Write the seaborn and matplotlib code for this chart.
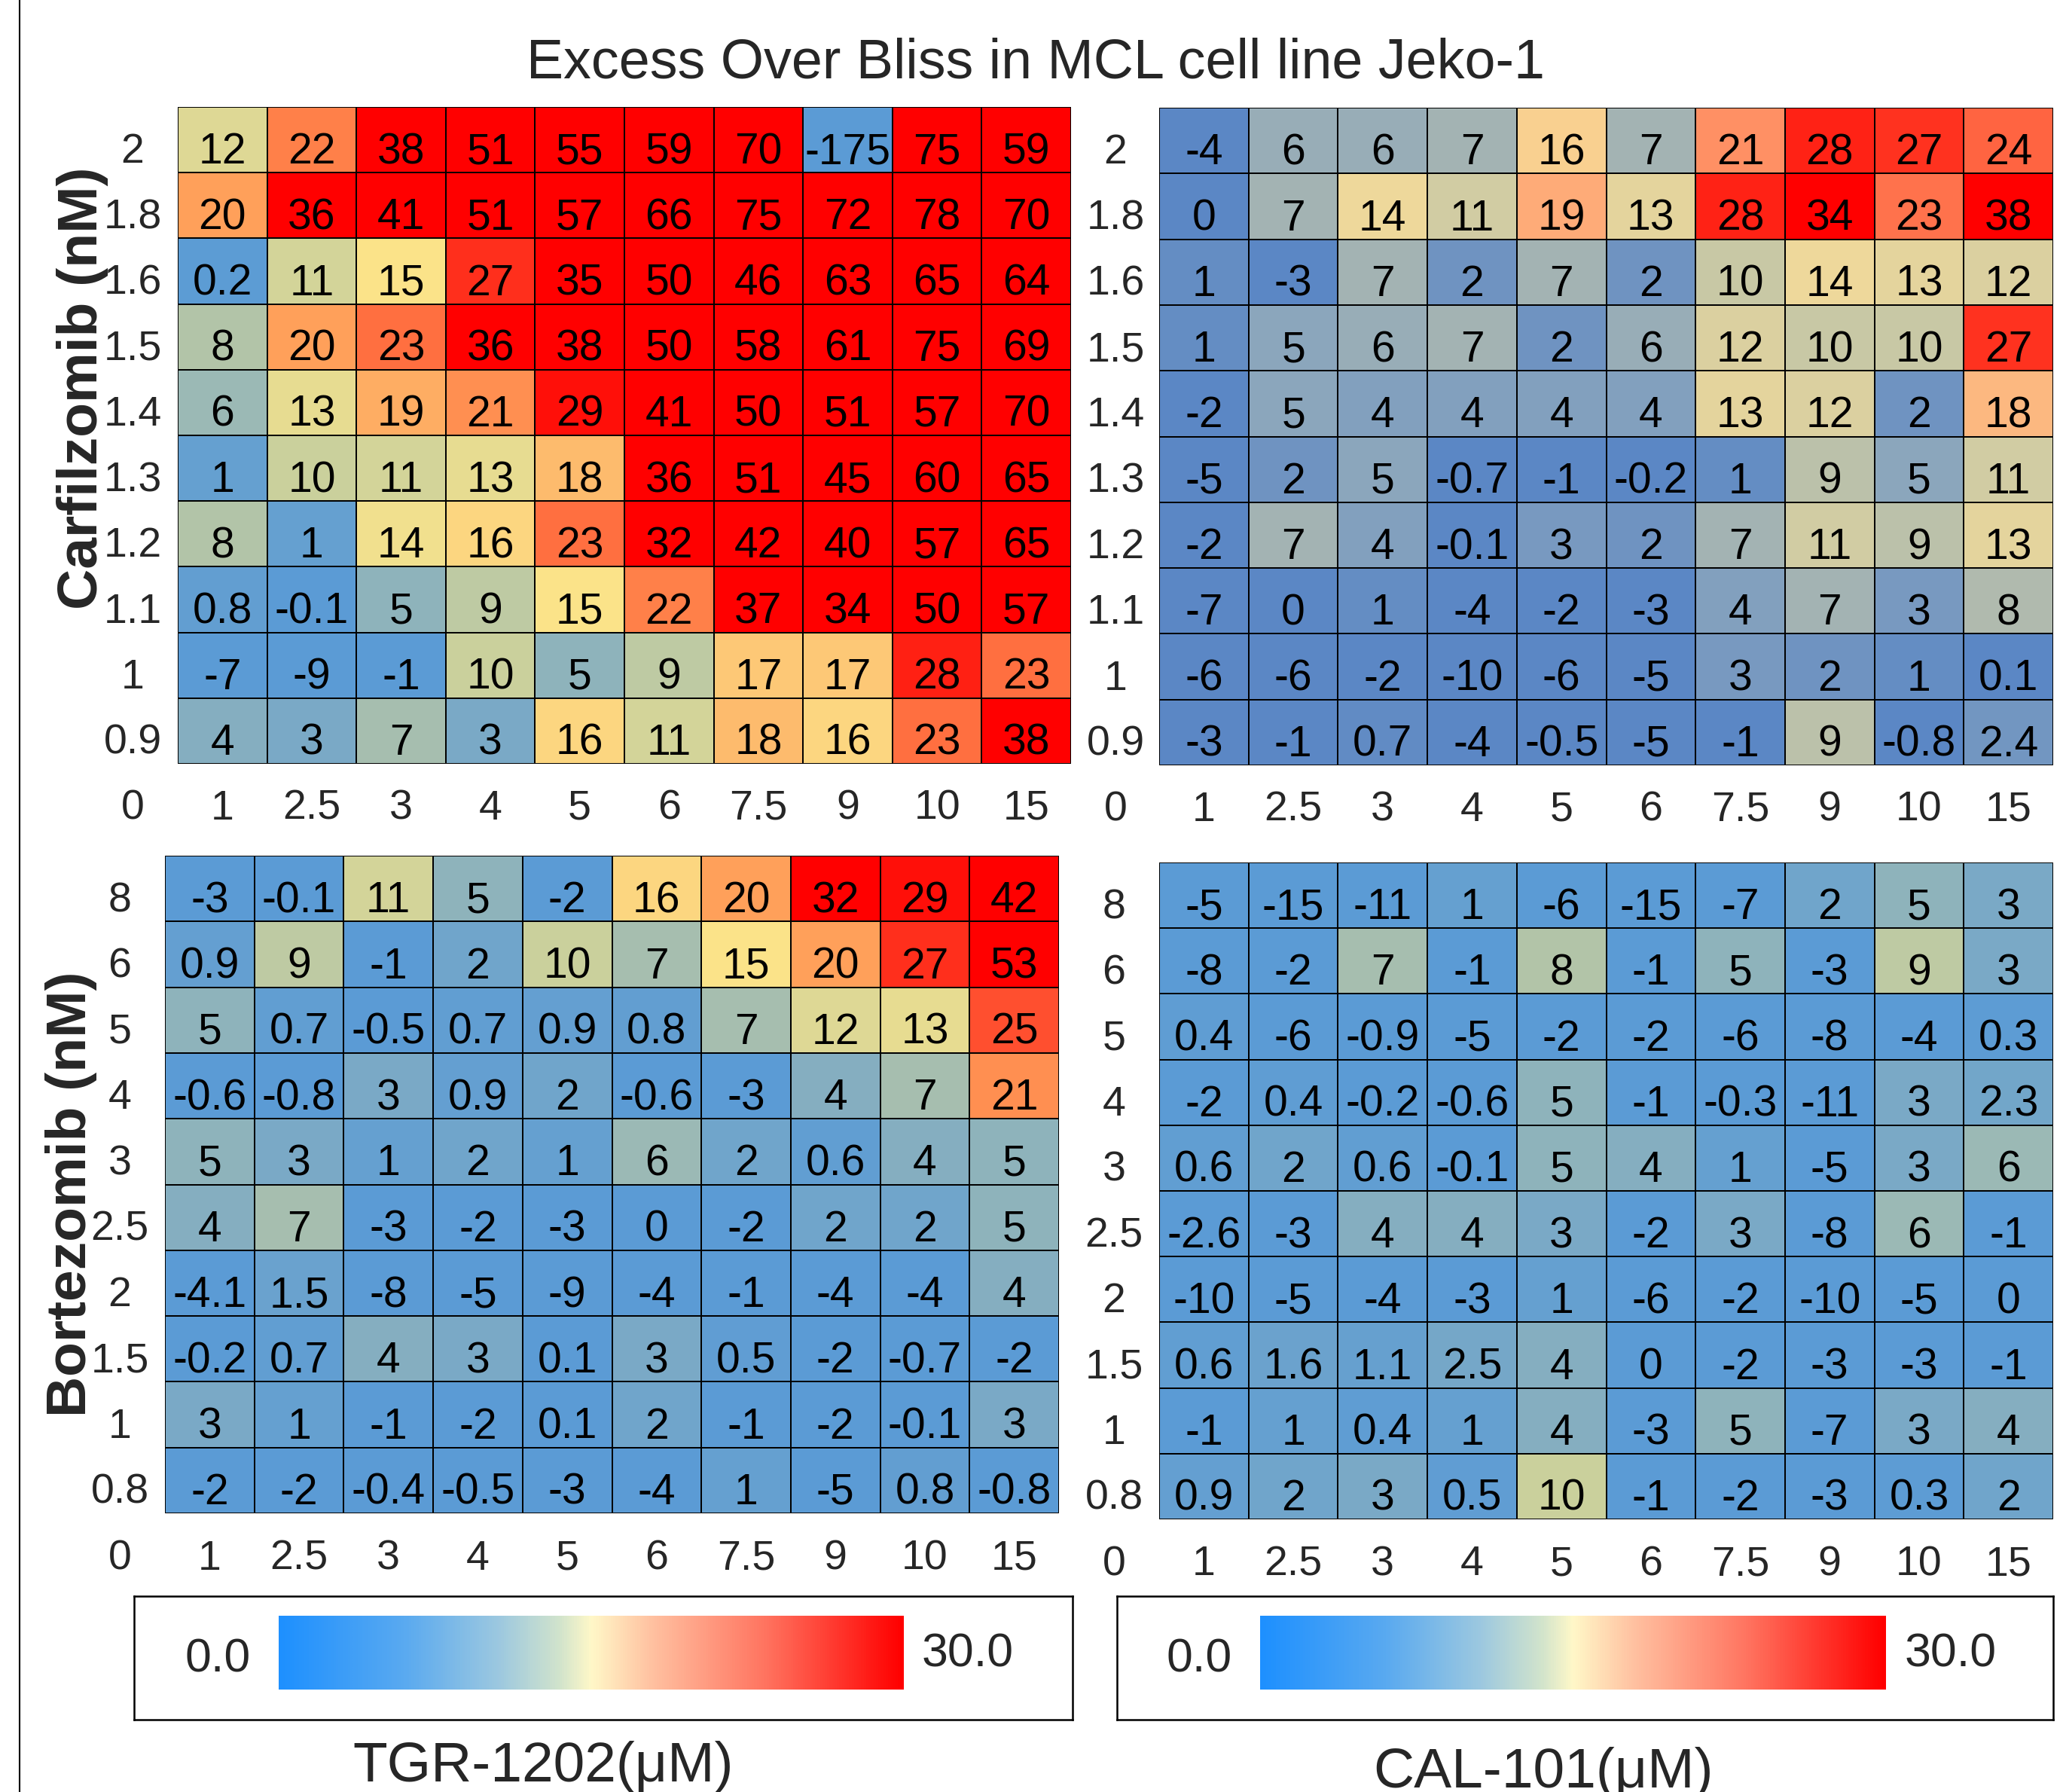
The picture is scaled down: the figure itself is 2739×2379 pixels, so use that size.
import numpy as np
import pandas as pd
import matplotlib
matplotlib.use("Agg")
import matplotlib.pyplot as plt
from matplotlib.colors import LinearSegmentedColormap
from matplotlib.lines import Line2D
import seaborn as sns

sns.set_style("white")
plt.rcParams['font.family'] = ['Liberation Sans', 'DejaVu Sans']

# doses
carf_doses = ["2", "1.8", "1.6", "1.5", "1.4", "1.3", "1.2", "1.1", "1", "0.9"]
bort_doses = ["8", "6", "5", "4", "3", "2.5", "2", "1.5", "1", "0.8"]
tgr_doses = ["1", "2.5", "3", "4", "5", "6", "7.5", "9", "10", "15"]
cal_doses = ["1", "2.5", "3", "4", "5", "6", "7.5", "9", "10", "15"]

# excess over bliss, rows top -> bottom
carf_tgr = [
    [12, 22, 38, 51, 55, 59, 70, -175, 75, 59],
    [20, 36, 41, 51, 57, 66, 75, 72, 78, 70],
    [0.2, 11, 15, 27, 35, 50, 46, 63, 65, 64],
    [8, 20, 23, 36, 38, 50, 58, 61, 75, 69],
    [6, 13, 19, 21, 29, 41, 50, 51, 57, 70],
    [1, 10, 11, 13, 18, 36, 51, 45, 60, 65],
    [8, 1, 14, 16, 23, 32, 42, 40, 57, 65],
    [0.8, -0.1, 5, 9, 15, 22, 37, 34, 50, 57],
    [-7, -9, -1, 10, 5, 9, 17, 17, 28, 23],
    [4, 3, 7, 3, 16, 11, 18, 16, 23, 38],
]
carf_cal = [
    [-4, 6, 6, 7, 16, 7, 21, 28, 27, 24],
    [0, 7, 14, 11, 19, 13, 28, 34, 23, 38],
    [1, -3, 7, 2, 7, 2, 10, 14, 13, 12],
    [1, 5, 6, 7, 2, 6, 12, 10, 10, 27],
    [-2, 5, 4, 4, 4, 4, 13, 12, 2, 18],
    [-5, 2, 5, -0.7, -1, -0.2, 1, 9, 5, 11],
    [-2, 7, 4, -0.1, 3, 2, 7, 11, 9, 13],
    [-7, 0, 1, -4, -2, -3, 4, 7, 3, 8],
    [-6, -6, -2, -10, -6, -5, 3, 2, 1, 0.1],
    [-3, -1, 0.7, -4, -0.5, -5, -1, 9, -0.8, 2.4],
]
bort_tgr = [
    [-3, -0.1, 11, 5, -2, 16, 20, 32, 29, 42],
    [0.9, 9, -1, 2, 10, 7, 15, 20, 27, 53],
    [5, 0.7, -0.5, 0.7, 0.9, 0.8, 7, 12, 13, 25],
    [-0.6, -0.8, 3, 0.9, 2, -0.6, -3, 4, 7, 21],
    [5, 3, 1, 2, 1, 6, 2, 0.6, 4, 5],
    [4, 7, -3, -2, -3, 0, -2, 2, 2, 5],
    [-4.1, 1.5, -8, -5, -9, -4, -1, -4, -4, 4],
    [-0.2, 0.7, 4, 3, 0.1, 3, 0.5, -2, -0.7, -2],
    [3, 1, -1, -2, 0.1, 2, -1, -2, -0.1, 3],
    [-2, -2, -0.4, -0.5, -3, -4, 1, -5, 0.8, -0.8],
]
bort_cal = [
    [-5, -15, -11, 1, -6, -15, -7, 2, 5, 3],
    [-8, -2, 7, -1, 8, -1, 5, -3, 9, 3],
    [0.4, -6, -0.9, -5, -2, -2, -6, -8, -4, 0.3],
    [-2, 0.4, -0.2, -0.6, 5, -1, -0.3, -11, 3, 2.3],
    [0.6, 2, 0.6, -0.1, 5, 4, 1, -5, 3, 6],
    [-2.6, -3, 4, 4, 3, -2, 3, -8, 6, -1],
    [-10, -5, -4, -3, 1, -6, -2, -10, -5, 0],
    [0.6, 1.6, 1.1, 2.5, 4, 0, -2, -3, -3, -1],
    [-1, 1, 0.4, 1, 4, -3, 5, -7, 3, 4],
    [0.9, 2, 3, 0.5, 10, -1, -2, -3, 0.3, 2],
]

W, H = 2739, 2379
fig = plt.figure(figsize=(W / 100, H / 100), dpi=100)

cmap_a = LinearSegmentedColormap.from_list("eob_a", [
    (0.0, "#5B9BD5"), (1/6, "#8FB3BB"), (2/6, "#CAD09C"), (0.5, "#FBE48A"),
    (4/6, "#FFA05A"), (5/6, "#FF5030"), (1.0, "#FF0000")])
cmap_b = LinearSegmentedColormap.from_list("eob_b", [
    (0.0, "#5B87C5"), (1/6, "#8CA6BC"), (2/6, "#C8C8A5"), (0.5, "#F8DC98"),
    (4/6, "#FFA070"), (5/6, "#FF5535"), (1.0, "#FF0000")])
grad_cmap = LinearSegmentedColormap.from_list("bar", [
    (0.0, "#1E90FF"), (0.2, "#5AAAF0"), (0.35, "#9CC8E0"), (0.45, "#D2E4CC"),
    (0.5, "#FFF8C8"), (0.6, "#FFC0A0"), (0.78, "#FF7460"), (1.0, "#FF0000")])

SHIFT = 0.19  # text sits a little below the cell centre in the original


def px_axes(x0, y0, x1, y1):
    return fig.add_axes([x0 / W, 1 - y1 / H, (x1 - x0) / W, (y1 - y0) / H])


def draw_panel(box, vals, rows, cols, cmap, xpad, ypad):
    ax = px_axes(*box)
    df = pd.DataFrame(vals, index=rows, columns=cols)
    labels = df.map(lambda v: f"{v:g}")
    sns.heatmap(df, ax=ax, cmap=cmap, vmin=0, vmax=30, cbar=False,
                annot=labels, fmt="", linewidths=1.4, linecolor="black",
                annot_kws={"fontsize": 41, "color": "black"})
    for t in ax.texts:
        x, y = t.get_position()
        t.set_position((x, y + SHIFT))
    ax.tick_params(length=0, labelsize=40)
    ax.tick_params(axis="y", pad=ypad * 0.72)
    ax.tick_params(axis="x", pad=xpad * 0.72)
    ax.set_yticks(np.arange(len(rows)) + 0.5 + SHIFT)
    ax.set_yticklabels(rows, rotation=0, ha="center", va="center")
    ax.set_xticklabels(cols, rotation=0, ha="center", va="center")
    ax.set_xlabel("")
    ax.set_ylabel("")
    ax.annotate("0", xy=(0, 0), xycoords="axes fraction",
                xytext=(-ypad * 0.72, -xpad * 0.72), textcoords="offset points",
                ha="center", va="center", fontsize=40)
    return ax


draw_panel((236, 142, 1422, 1014), carf_tgr, carf_doses, tgr_doses, cmap_a, 60, 60)
draw_panel((1539, 143, 2726, 1016), carf_cal, carf_doses, cal_doses, cmap_b, 60, 58)
draw_panel((219, 1136, 1406, 2009), bort_tgr, bort_doses, tgr_doses, cmap_a, 61, 60)
draw_panel((1539, 1145, 2726, 2017), bort_cal, bort_doses, cal_doses, cmap_a, 60, 60)

# colour bar boxes
for bx, bar, lo, hi in [((178, 2119, 1424, 2283), (370, 2145, 1200, 2243), 289, 1285),
                        ((1483, 2119, 2726, 2283), (1673, 2145, 2504, 2243), 1592, 2590)]:
    frame = px_axes(*bx)
    frame.set_xticks([])
    frame.set_yticks([])
    for s in frame.spines.values():
        s.set_visible(True)
        s.set_color("black")
        s.set_linewidth(1.8)
    bax = px_axes(*bar)
    bax.imshow(np.linspace(0, 1, 256)[None, :], cmap=grad_cmap, aspect="auto",
               interpolation="bilinear")
    bax.axis("off")
    fig.text(lo / W, 1 - 2203 / H, "0.0", ha="center", va="center", fontsize=45)
    fig.text(hi / W, 1 - 2196 / H, "30.0", ha="center", va="center", fontsize=45)

fig.text(1375 / W, 1 - 84 / H, "Excess Over Bliss in MCL cell line Jeko-1",
         ha="center", va="center", fontsize=53)
fig.text(110 / W, 1 - 515 / H, "Carfilzomib (nM)", rotation=90, ha="center",
         va="center", fontsize=54, fontweight="bold")
fig.text(95 / W, 1 - 1585 / H, "Bortezomib (nM)", rotation=90, ha="center",
         va="center", fontsize=54, fontweight="bold")
fig.text(721 / W, 1 - 2346 / H, "TGR-1202(μM)", ha="center", va="center", fontsize=54)
fig.text(2049 / W, 1 - 2353 / H, "CAL-101(μM)", ha="center", va="center", fontsize=54)

fig.add_artist(Line2D([26 / W, 26 / W], [0, 1], color="black", lw=1.5))

fig.savefig("out.png", dpi=100)
